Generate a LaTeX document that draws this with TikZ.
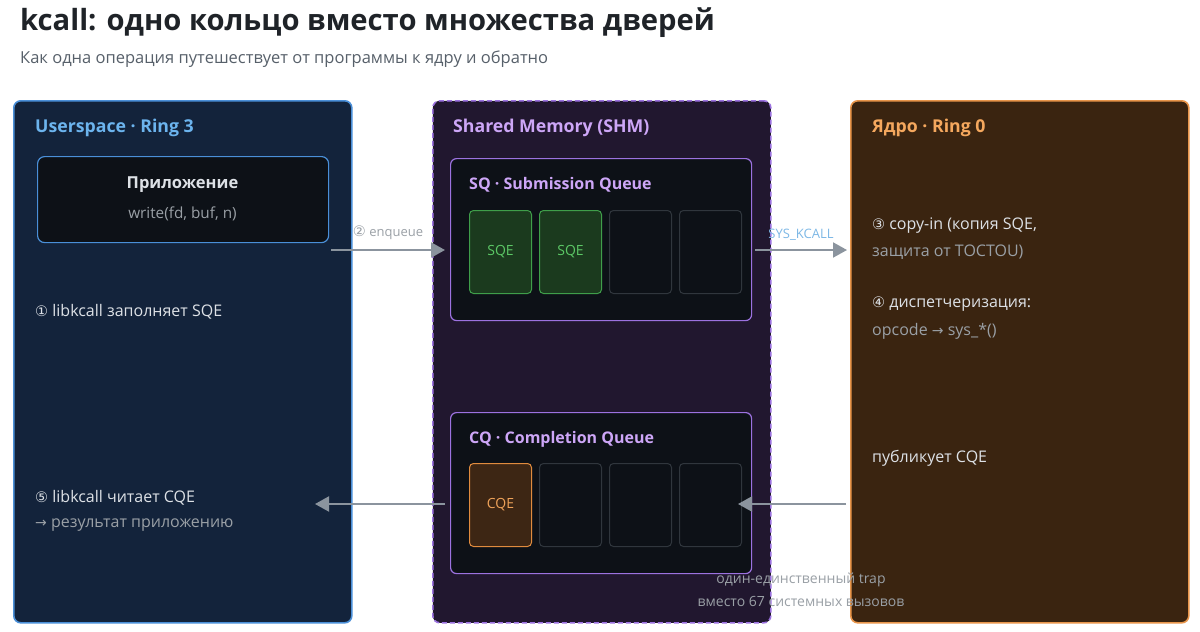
\documentclass[tikz,border=0pt]{standalone}
\usepackage{fontspec}
\setmainfont{Open Sans}
\newfontfamily\symf{DejaVu Sans}
\usetikzlibrary{arrows.meta}

\definecolor{titleink}{HTML}{1F2328}
\definecolor{subink}{HTML}{57606A}
\definecolor{userfill}{HTML}{13233B}
\definecolor{userline}{HTML}{4A8FD8}
\definecolor{userhead}{HTML}{6CB4EE}
\definecolor{shmfill}{HTML}{21172F}
\definecolor{shmline}{HTML}{9C72E0}
\definecolor{shmhead}{HTML}{CDA6F7}
\definecolor{kernfill}{HTML}{3A2410}
\definecolor{kernline}{HTML}{E8954A}
\definecolor{kernhead}{HTML}{F5A85E}
\definecolor{innerfill}{HTML}{0D1117}
\definecolor{emptyline}{HTML}{30363D}
\definecolor{sqefill}{HTML}{1B3A1E}
\definecolor{sqeline}{HTML}{3F9E4A}
\definecolor{sqeink}{HTML}{5CC866}
\definecolor{cqefill}{HTML}{3D2614}
\definecolor{cqeline}{HTML}{E08B3E}
\definecolor{cqeink}{HTML}{F0A35A}
\definecolor{bodyink}{HTML}{DDE1E6}
\definecolor{mutedink}{HTML}{9AA0A6}
\definecolor{arrowgray}{HTML}{8B949E}
\definecolor{sysink}{HTML}{7DB8E6}

\newcommand{\circnum}[1]{{\symf\fontsize{14.5}{16}\selectfont #1}}
\newcommand{\rarr}{{\symf\fontsize{14}{15}\selectfont →}}

\tikzset{
  panel/.style={anchor=north west, rounded corners=7pt, line width=1.6pt,
    minimum width=338pt, minimum height=522pt},
  qbox/.style={anchor=north west, rounded corners=6pt, line width=1.2pt,
    draw=shmline, fill=innerfill, minimum width=301pt},
  emptyslot/.style={anchor=north west, rounded corners=4pt, line width=1pt,
    draw=emptyline, fill=innerfill, minimum width=62pt, minimum height=83pt},
  sqeslot/.style={emptyslot, draw=sqeline, fill=sqefill, text=sqeink,
    font=\fontsize{14}{16}\selectfont},
  cqeslot/.style={emptyslot, draw=cqeline, fill=cqefill, text=cqeink,
    font=\fontsize{14}{16}\selectfont},
  head/.style={anchor=west, inner sep=0pt, font=\bfseries\fontsize{17.7}{21}\selectfont},
  qhead/.style={anchor=west, inner sep=0pt, text=shmhead,
    font=\bfseries\fontsize{16}{19}\selectfont},
  txt/.style={anchor=west, inner sep=0pt, text=bodyink, font=\fontsize{16}{19}\selectfont},
  dim/.style={txt, text=mutedink},
  flow/.style={draw=arrowgray, line width=2pt, -{Triangle[length=14pt,width=15pt]}},
  tag/.style={inner sep=0pt, font=\fontsize{13}{15}\selectfont, text=mutedink}
}

\begin{document}
\begin{tikzpicture}[x=1pt, y=-1pt]
    \useasboundingbox (0,0) rectangle (1200,632);
    \fill[white] (0,0) rectangle (1200,632);

    \node[anchor=west, inner sep=0pt, text=titleink,
      font=\bfseries\fontsize{29.2}{35}\selectfont] (title) at (20,23)
      {kcall: одно кольцо вместо множества дверей};
    \node[anchor=west, inner sep=0pt, text=subink,
      font=\fontsize{16.5}{19}\selectfont] (subtitle) at (20,59)
      {Как одна операция путешествует от программы к ядру и обратно};

    \node[panel, draw=userline, fill=userfill] (user) at (13,100) {};
    \node[panel, draw=shmline, fill=shmfill, dash pattern=on 5pt off 3pt] (shm) at (432,100) {};
    \node[panel, draw=kernline, fill=kernfill] (kern) at (850,100) {};

    \node[head, text=userhead] (userhead) at (35,128) {Userspace · Ring 3};
    \node[head, text=shmhead] (shmhead) at (453,128) {Shared Memory (SHM)};
    \node[head, text=kernhead] (kernhead) at (872,128) {Ядро · Ring 0};

    \node[anchor=north west, rounded corners=7pt, line width=1.2pt, draw=userline,
      fill=innerfill, minimum width=291pt, minimum height=86pt] (app) at (37,156) {};
    \node[inner sep=0pt, text=bodyink, font=\bfseries\fontsize{16.5}{19}\selectfont]
      (appname) at (182.5,185) {Приложение};
    \node[tag, font=\fontsize{15.3}{18}\selectfont] (appcall) at (182.5,214) {write(fd, buf, n)};

    \node[txt] (step1) at (35,312) {\circnum{①} libkcall заполняет SQE};
    \node[txt] (step5) at (35,498) {\circnum{⑤} libkcall читает CQE};
    \node[dim] (step5b) at (35,525) {\rarr\ результат приложению};

    \node[qbox, minimum height=162pt] (sq) at (450,158) {};
    \node[qhead] (sqhead) at (469,185) {SQ · Submission Queue};
    \foreach \n/\x/\s/\t in {1/469/sqeslot/SQE, 2/539/sqeslot/SQE, 3/609/emptyslot/, 4/679/emptyslot/} {
        \node[\s] (sq\n) at (\x,210) {\t};
    }

    \node[qbox, minimum height=161pt] (cq) at (450,412) {};
    \node[qhead] (cqhead) at (469,439) {CQ · Completion Queue};
    \foreach \n/\x/\s/\t in {1/469/cqeslot/CQE, 2/539/emptyslot/, 3/609/emptyslot/, 4/679/emptyslot/} {
        \node[\s] (cq\n) at (\x,463) {\t};
    }

    \node[txt] (step3) at (872,226) {\circnum{③} copy-in (копия SQE,};
    \node[dim] (step3b) at (872,252) {защита от TOCTOU)};
    \node[txt] (step4) at (872,304) {\circnum{④} диспетчеризация:};
    \node[dim] (step4b) at (872,331) {opcode \rarr\ sys\_*()};
    \node[txt] (publish) at (872,458) {публикует CQE};

    \coordinate (enqfrom) at (331,250);
    \coordinate (enqto) at (445,250);
    \coordinate (trapfrom) at (755,250);
    \coordinate (trapto) at (847,250);
    \coordinate (readfrom) at (445,504);
    \coordinate (readto) at (315,504);
    \coordinate (pubfrom) at (846,504);
    \coordinate (pubto) at (738,504);

    \draw[flow] (enqfrom) -- (enqto) node[tag, midway, above=9pt] (enqlabel) {\circnum{②} enqueue};
    \draw[flow] (trapfrom) -- (trapto) node[tag, midway, above=9pt, text=sysink] (traplabel) {SYS\_KCALL};
    \draw[flow] (readfrom) -- (readto);
    \draw[flow] (pubfrom) -- (pubto);

    \node[tag, font=\fontsize{14}{16}\selectfont] (trapnote) at (801,580) {один-единственный trap};
    \node[tag, font=\fontsize{14}{16}\selectfont] (trapnote2) at (801,601) {вместо 67 системных вызовов};
\end{tikzpicture}
\end{document}
